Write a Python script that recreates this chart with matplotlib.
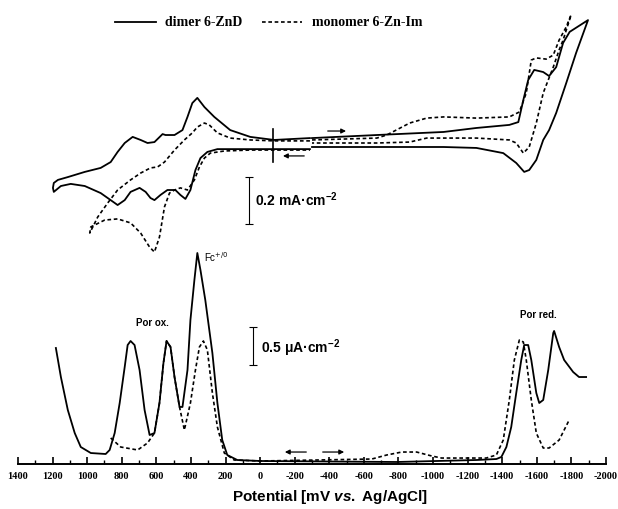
import matplotlib
matplotlib.use("Agg")
import matplotlib.pyplot as plt
from matplotlib.lines import Line2D
from matplotlib.ticker import MultipleLocator

plt.rcParams['axes.unicode_minus'] = False
plt.rcParams['mathtext.fontset'] = 'custom'
plt.rcParams['mathtext.rm'] = 'Liberation Sans:bold'
plt.rcParams['mathtext.bf'] = 'Liberation Sans:bold'
plt.rcParams['mathtext.it'] = 'Liberation Sans:bold:italic'

# ---- cyclic voltammetry (E in mV, i in mA cm^-2) ----
# dimer 6-ZnD, oxidation side (scan out to +1200 mV and back)
cv_dimer_ox_E = [-288, -81, 57, 173, 265, 322, 363, 392, 420, 449, 495, 547, 564, 611, 651, 691,
                 737, 783, 824, 864, 922, 1014, 1112, 1169, 1193, 1198, 1193,
                 1152, 1095, 1014, 922, 841, 824, 783, 749, 697, 662, 634, 611, 576, 536, 490,
                 461, 432, 403, 374, 345, 305, 247, 150, -81, -288]
cv_dimer_ox_i = [0.038, 0.030, 0.043, 0.072, 0.128, 0.170, 0.209, 0.187, 0.128, 0.072, 0.051, 0.051,
                 0.055, 0.021, 0.017, 0.030, 0.043, 0.017, -0.021, -0.064, -0.089, -0.106, -0.128,
                 -0.140, -0.153, -0.174, -0.191,
                 -0.166, -0.157, -0.166, -0.196, -0.238, -0.247, -0.226, -0.191, -0.174, -0.191,
                 -0.217, -0.226, -0.204, -0.183, -0.183, -0.204, -0.221, -0.183, -0.098, -0.047,
                 -0.021, -0.009, -0.009, -0.009, -0.009]
# dimer 6-ZnD, reduction side
cv_dimer_red_E = [-300, -675, -1061, -1251, -1441, -1493, -1522, -1550, -1585, -1637, -1671, -1712,
                  -1752, -1790, -1896,
                  -1827, -1770, -1712, -1671, -1637, -1597, -1556, -1527, -1481, -1406, -1251,
                  -1061, -675, -300]
cv_dimer_red_i = [0.038, 0.051, 0.064, 0.081, 0.094, 0.106, 0.200, 0.285, 0.328, 0.319, 0.302, 0.340,
                  0.443, 0.490, 0.540,
                  0.400, 0.272, 0.145, 0.072, 0.030, -0.055, -0.098, -0.106, -0.068, -0.026,
                  -0.004, 0.0, 0.0, 0.0]
# monomer 6-Zn-Im, oxidation side
cv_mono_ox_E = [-288, -81, 57, 173, 247, 294, 322, 363, 392, 438, 495, 553, 593, 634, 691, 749,
                824, 881, 939, 985,
                979, 899, 824, 749, 691, 639, 611, 582, 553, 524, 495, 461, 420, 380, 351, 322,
                288, 207, 57, -288]
cv_mono_ox_i = [0.026, 0.026, 0.030, 0.038, 0.060, 0.094, 0.102, 0.085, 0.060, 0.030, -0.013,
                -0.064, -0.085, -0.089, -0.111, -0.140, -0.183, -0.238, -0.298, -0.366,
                -0.340, -0.311, -0.306, -0.323, -0.366, -0.426, -0.447, -0.383, -0.255, -0.196,
                -0.183, -0.174, -0.183, -0.140, -0.085, -0.047, -0.026, -0.017, -0.013, -0.013]
# monomer 6-Zn-Im, reduction side
cv_mono_red_E = [-300, -675, -732, -865, -963, -1061, -1251, -1441, -1499, -1539, -1568, -1597,
                 -1654, -1695, -1729, -1770, -1798,
                 -1752, -1729, -1695, -1637, -1597, -1556, -1522, -1481, -1441, -1251, -963,
                 -865, -675, -300]
cv_mono_red_i = [0.030, 0.038, 0.051, 0.102, 0.123, 0.128, 0.123, 0.128, 0.149, 0.230, 0.370,
                 0.379, 0.374, 0.391, 0.455, 0.511, 0.562,
                 0.455, 0.413, 0.340, 0.230, 0.102, 0.0, -0.026, 0.017, 0.030, 0.038, 0.038,
                 0.021, 0.017, 0.017]

# ---- differential pulse voltammetry (E in mV, i in uA cm^-2) ----
dpv_dimer_E = [1181, 1152, 1112, 1072, 1037, 979, 893, 870, 841, 812, 783, 766, 749, 726, 697, 668,
               639, 611, 582, 559, 541, 518, 495, 466, 449, 420, 403, 380, 363, 345, 317, 276, 247,
               219, 190, 132, 0, -790, -1251, -1366, -1395, -1424, -1452, -1481, -1510, -1527,
               -1550, -1568, -1597, -1614, -1637, -1666, -1695, -1700, -1729, -1758, -1810,
               -1844, -1885]
dpv_dimer_i = [1.487, 1.105, 0.671, 0.368, 0.184, 0.105, 0.092, 0.145, 0.368, 0.763, 1.237, 1.526,
               1.579, 1.526, 1.197, 0.671, 0.342, 0.368, 0.763, 1.289, 1.579, 1.500, 1.105, 0.711,
               0.711, 1.197, 1.855, 2.382, 2.737, 2.513, 2.118, 1.421, 0.763, 0.276, 0.079, 0.013,
               0.0, -0.013, 0.013, 0.026, 0.053, 0.184, 0.447, 0.895, 1.329, 1.526, 1.526, 1.329,
               0.895, 0.763, 0.803, 1.197, 1.684, 1.711, 1.500, 1.329, 1.171, 1.105, 1.105]
dpv_mono_E = [864, 806, 708, 651, 611, 582, 559, 541, 518, 495, 466, 438, 403, 374, 351, 328, 305,
              276, 247, 207, 150, 0, -646, -732, -819, -905, -992, -1049, -1308, -1366, -1406,
              -1441, -1470, -1499, -1522, -1539, -1568, -1597, -1637, -1671, -1729, -1787]
dpv_mono_i = [0.303, 0.184, 0.145, 0.237, 0.368, 0.763, 1.289, 1.579, 1.500, 1.105, 0.711, 0.408,
              0.763, 1.197, 1.500, 1.579, 1.461, 0.895, 0.447, 0.105, 0.013, 0.0, 0.026, 0.079,
              0.118, 0.118, 0.066, 0.039, 0.039, 0.079, 0.276, 0.803, 1.329, 1.592, 1.566, 1.329,
              0.803, 0.368, 0.171, 0.171, 0.276, 0.539]

x_ticks = list(range(1400, -2001, -200))

solid = dict(color='black', lw=1.3, solid_joinstyle='round')
dashed = dict(color='black', lw=1.2, linestyle=(0, (2.2, 1.6)))

fig = plt.figure(figsize=(6.18, 5.09), dpi=100)
rect = [18 / 618, 0.0, 588 / 618, 1.0]

# lower panel: DPV, carries the potential axis
ax = fig.add_axes(rect)
ax.patch.set_alpha(0)
ax.set_xlim(1400, -2000)
ax.set_ylim(-48 / 76, 461 / 76)
ax.plot(dpv_dimer_E, dpv_dimer_i, **solid)
ax.plot(dpv_mono_E, dpv_mono_i, **dashed)
for s in ['left', 'right', 'top']:
    ax.spines[s].set_visible(False)
ax.spines['bottom'].set_position(('data', -0.04))
ax.spines['bottom'].set_linewidth(1.4)
ax.set_yticks([])
ax.set_xticks(x_ticks)
ax.xaxis.set_minor_locator(MultipleLocator(100))
ax.tick_params(axis='x', which='major', direction='in', length=5, width=1.2, pad=6)
ax.tick_params(axis='x', which='minor', direction='in', length=3, width=1.0)
for lbl in ax.get_xticklabels():
    lbl.set_fontfamily('Liberation Serif')
    lbl.set_fontweight('bold')
    lbl.set_fontsize(7.5)
ax.set_xlabel(r'Potential [mV $\mathit{vs.}$ Ag/AgCl]', fontsize=11,
              fontfamily='Liberation Sans', fontweight='bold')
ax.xaxis.set_label_coords(0.53, 21 / 509)

ax.annotate('', xy=(-127, 0.118), xytext=(-283, 0.118),
            arrowprops=dict(arrowstyle='-|>', color='black', lw=0.9, mutation_scale=7))
ax.annotate('', xy=(-502, 0.118), xytext=(-346, 0.118),
            arrowprops=dict(arrowstyle='-|>', color='black', lw=0.9, mutation_scale=7))

# DPV scale bar
ax.errorbar([40], [1.513], yerr=[0.25], color='black', lw=0.8, capsize=3, capthick=0.8)
ax.text(-6, 1.487, r'0.5 μA·cm$^{-2}$', fontsize=10, fontfamily='Liberation Sans',
        fontweight='bold', ha='left', va='center')
ax.text(622, 1.816, 'Por ox.', fontsize=7, fontfamily='Liberation Sans', fontweight='bold',
        ha='center', va='center')
ax.text(322, 2.684, r'Fc$^{+/0}$', fontsize=7, fontfamily='Liberation Sans', ha='left',
        va='center', math_fontfamily='dejavusans')
ax.text(-1608, 1.921, 'Por red.', fontsize=7, fontfamily='Liberation Sans', fontweight='bold',
        ha='center', va='center')

# upper panel: CV
cv = fig.add_axes(rect)
cv.patch.set_alpha(0)
cv.set_xlim(1400, -2000)
cv.set_ylim(-362 / 235, 147 / 235)
cv.axis('off')
cv.plot(cv_dimer_ox_E, cv_dimer_ox_i, **solid)
cv.plot(cv_dimer_red_E, cv_dimer_red_i, **solid)
cv.plot(cv_mono_ox_E, cv_mono_ox_i, **dashed)
cv.plot(cv_mono_red_E, cv_mono_red_i, **dashed)
cv.plot([-75, -75], [0.077, -0.064], color='black', lw=1.2)
cv.annotate('', xy=(-513, 0.068), xytext=(-375, 0.068),
            arrowprops=dict(arrowstyle='-|>', color='black', lw=0.9, mutation_scale=7))
cv.annotate('', xy=(-116, -0.038), xytext=(-271, -0.038),
            arrowprops=dict(arrowstyle='-|>', color='black', lw=0.9, mutation_scale=7))
cv.errorbar([63], [-0.228], yerr=[0.1], color='black', lw=0.8, capsize=3, capthick=0.8)
cv.text(28, -0.226, r'0.2 mA·cm$^{-2}$', fontsize=10, fontfamily='Liberation Sans',
        fontweight='bold', ha='left', va='center')

handles = [Line2D([], [], **solid), Line2D([], [], **dashed)]
fig.legend(handles, ['dimer 6-ZnD', 'monomer 6-Zn-Im'], loc='center',
           bbox_to_anchor=(269 / 618, 1 - 23 / 509), ncol=2, frameon=False,
           handlelength=2.9, handletextpad=0.7, columnspacing=1.4,
           prop={'family': 'Liberation Serif', 'weight': 'bold', 'size': 10})

fig.savefig('out.png', dpi=100)
